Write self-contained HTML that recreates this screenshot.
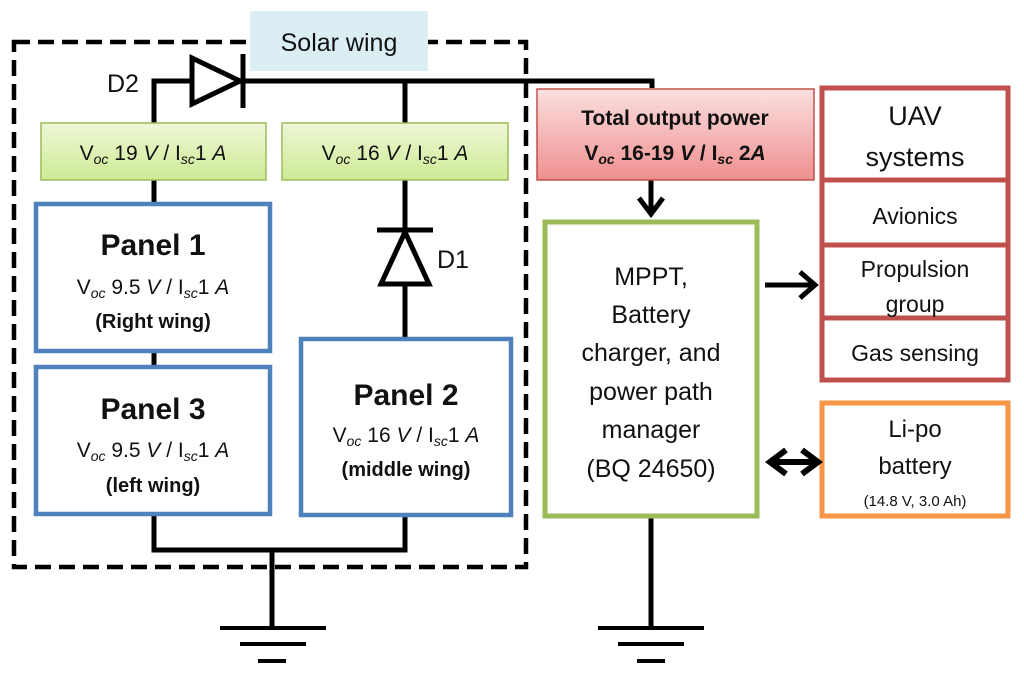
<!DOCTYPE html>
<html><head><meta charset="utf-8"><style>
html,body{margin:0;padding:0;background:#fff;}
svg{display:block;font-family:"Liberation Sans",sans-serif;}
</style></head><body>
<svg width="1024" height="673" viewBox="0 0 1024 673" xmlns="http://www.w3.org/2000/svg">
<defs>
<linearGradient id="gg" x1="0" y1="0" x2="0" y2="1"><stop offset="0" stop-color="#eef8d8"/><stop offset="1" stop-color="#cdea94"/></linearGradient>
<linearGradient id="rg" x1="0" y1="0" x2="0" y2="1"><stop offset="0" stop-color="#fbe0e0"/><stop offset="1" stop-color="#ef8f8f"/></linearGradient>
</defs>
<rect x="14" y="42" width="512" height="525" fill="none" stroke="#000" stroke-width="4.5" stroke-dasharray="16,8"/>
<rect x="250" y="11" width="178" height="60" fill="#dbeef4"/>
<text x="339" y="51" font-size="25" text-anchor="middle" fill="#111">Solar wing</text>
<g stroke="#000" stroke-width="5" fill="none">
<polyline points="154,123 154,81 192,81"/>
<line x1="243" y1="81" x2="654" y2="81"/>
<line x1="652" y1="79" x2="652" y2="88"/>
<line x1="405" y1="81" x2="405" y2="123"/>
<line x1="405" y1="180" x2="405" y2="338"/>
<line x1="154" y1="180" x2="154" y2="202"/>
<line x1="154" y1="353" x2="154" y2="365"/>
<polyline points="154,515 154,550 405,550 405,516"/>
<line x1="272" y1="550" x2="272" y2="627"/>
<line x1="651" y1="518" x2="651" y2="627"/>
<line x1="651" y1="180" x2="651" y2="214"/>
<polyline points="639,198 651,214 663,198"/>
<line x1="765" y1="285" x2="815" y2="285"/>
<polyline points="800,272 815,285 800,298"/>
</g>
<polygon points="192,58 240,81 192,104" fill="#fff" stroke="#000" stroke-width="5"/>
<line x1="243" y1="54" x2="243" y2="108" stroke="#000" stroke-width="5"/>
<text x="107" y="92" font-size="25" fill="#111">D2</text>
<polygon points="405,232 381,284 429,284" fill="#fff" stroke="#000" stroke-width="5"/>
<line x1="377" y1="230" x2="433" y2="230" stroke="#000" stroke-width="5"/>
<text x="437" y="268" font-size="25" fill="#111">D1</text>
<g stroke="#000" stroke-width="4">
<line x1="220" y1="628" x2="326" y2="628"/><line x1="240" y1="644" x2="306" y2="644"/><line x1="258" y1="661" x2="286" y2="661"/>
<line x1="598" y1="628" x2="704" y2="628"/><line x1="618" y1="644" x2="684" y2="644"/><line x1="637" y1="661" x2="665" y2="661"/>
</g>
<rect x="41" y="123" width="225" height="57" fill="url(#gg)" stroke="#9bbb59" stroke-width="1.5"/>
<rect x="282" y="123" width="226" height="57" fill="url(#gg)" stroke="#9bbb59" stroke-width="1.5"/>
<text x="153" y="160" font-size="21" text-anchor="middle" fill="#111">V<tspan font-size="14" font-style="italic" dy="4">oc</tspan><tspan dy="-4"> 19 </tspan><tspan font-style="italic">V</tspan> / I<tspan font-size="14" font-style="italic" dy="4">sc</tspan><tspan dy="-4">1 </tspan><tspan font-style="italic">A</tspan></text>
<text x="395" y="160" font-size="21" text-anchor="middle" fill="#111">V<tspan font-size="14" font-style="italic" dy="4">oc</tspan><tspan dy="-4"> 16 </tspan><tspan font-style="italic">V</tspan> / I<tspan font-size="14" font-style="italic" dy="4">sc</tspan><tspan dy="-4">1 </tspan><tspan font-style="italic">A</tspan></text>
<g fill="#fff" stroke="#4f81bd" stroke-width="4.5">
<rect x="36" y="204" width="234" height="147"/>
<rect x="36" y="367" width="234" height="147"/>
<rect x="301" y="339" width="210" height="176"/>
</g>
<g fill="#111" text-anchor="middle">
<text x="153" y="255" font-size="30" font-weight="bold">Panel 1</text>
<text x="153" y="294" font-size="21">V<tspan font-size="14" font-style="italic" dy="4">oc</tspan><tspan dy="-4"> 9.5 </tspan><tspan font-style="italic">V</tspan> / I<tspan font-size="14" font-style="italic" dy="4">sc</tspan><tspan dy="-4">1 </tspan><tspan font-style="italic">A</tspan></text>
<text x="153" y="328" font-size="20" font-weight="bold">(Right wing)</text>
<text x="153" y="419" font-size="30" font-weight="bold">Panel 3</text>
<text x="153" y="457" font-size="21">V<tspan font-size="14" font-style="italic" dy="4">oc</tspan><tspan dy="-4"> 9.5 </tspan><tspan font-style="italic">V</tspan> / I<tspan font-size="14" font-style="italic" dy="4">sc</tspan><tspan dy="-4">1 </tspan><tspan font-style="italic">A</tspan></text>
<text x="153" y="492" font-size="20" font-weight="bold">(left wing)</text>
<text x="406" y="405" font-size="30" font-weight="bold">Panel 2</text>
<text x="406" y="442" font-size="21">V<tspan font-size="14" font-style="italic" dy="4">oc</tspan><tspan dy="-4"> 16 </tspan><tspan font-style="italic">V</tspan> / I<tspan font-size="14" font-style="italic" dy="4">sc</tspan><tspan dy="-4">1 </tspan><tspan font-style="italic">A</tspan></text>
<text x="406" y="476" font-size="20" font-weight="bold">(middle wing)</text>
</g>
<rect x="537" y="89" width="277" height="91" fill="url(#rg)" stroke="#c0504d" stroke-width="1.5"/>
<text x="675" y="125" font-size="21" font-weight="bold" text-anchor="middle" fill="#111">Total output power</text>
<text x="675" y="160" font-size="21" font-weight="bold" text-anchor="middle" fill="#111">V<tspan font-size="14" font-style="italic" dy="4">oc</tspan><tspan dy="-4"> 16-19 </tspan><tspan font-style="italic">V</tspan> / I<tspan font-size="14" font-style="italic" dy="4">sc</tspan><tspan dy="-4"> 2</tspan><tspan font-style="italic">A</tspan></text>
<rect x="545" y="222" width="212" height="294" fill="#fff" stroke="#9bbb59" stroke-width="5"/>
<g font-size="25" text-anchor="middle" fill="#111">
<text x="651" y="285">MPPT,</text>
<text x="651" y="323">Battery</text>
<text x="651" y="361">charger, and</text>
<text x="651" y="400">power path</text>
<text x="651" y="438">manager</text>
<text x="651" y="477">(BQ 24650)</text>
</g>
<g fill="#fff" stroke="#c0504d" stroke-width="5">
<rect x="822" y="88" width="186" height="92"/>
<rect x="822" y="180" width="186" height="65"/>
<rect x="822" y="245" width="186" height="73"/>
<rect x="822" y="318" width="186" height="62"/>
</g>
<g text-anchor="middle" fill="#111">
<text x="915" y="125" font-size="27">UAV</text>
<text x="915" y="166" font-size="27">systems</text>
<text x="915" y="224" font-size="23">Avionics</text>
<text x="915" y="277" font-size="23">Propulsion</text>
<text x="915" y="312" font-size="23">group</text>
<text x="915" y="361" font-size="23">Gas sensing</text>
</g>
<rect x="822" y="403" width="186" height="113" fill="#fff" stroke="#f79646" stroke-width="5"/>
<g text-anchor="middle" fill="#111">
<text x="915" y="437" font-size="24">Li-po</text>
<text x="915" y="474" font-size="24">battery</text>
<text x="915" y="506" font-size="15">(14.8 V, 3.0 Ah)</text>
</g>
<g stroke="#000" stroke-width="6" fill="none" stroke-linejoin="miter">
<polyline points="786,450 770,462 786,474"/>
<polyline points="802,450 818,462 802,474"/>
<line x1="772" y1="462" x2="816" y2="462"/>
</g>
</svg>
</body></html>
